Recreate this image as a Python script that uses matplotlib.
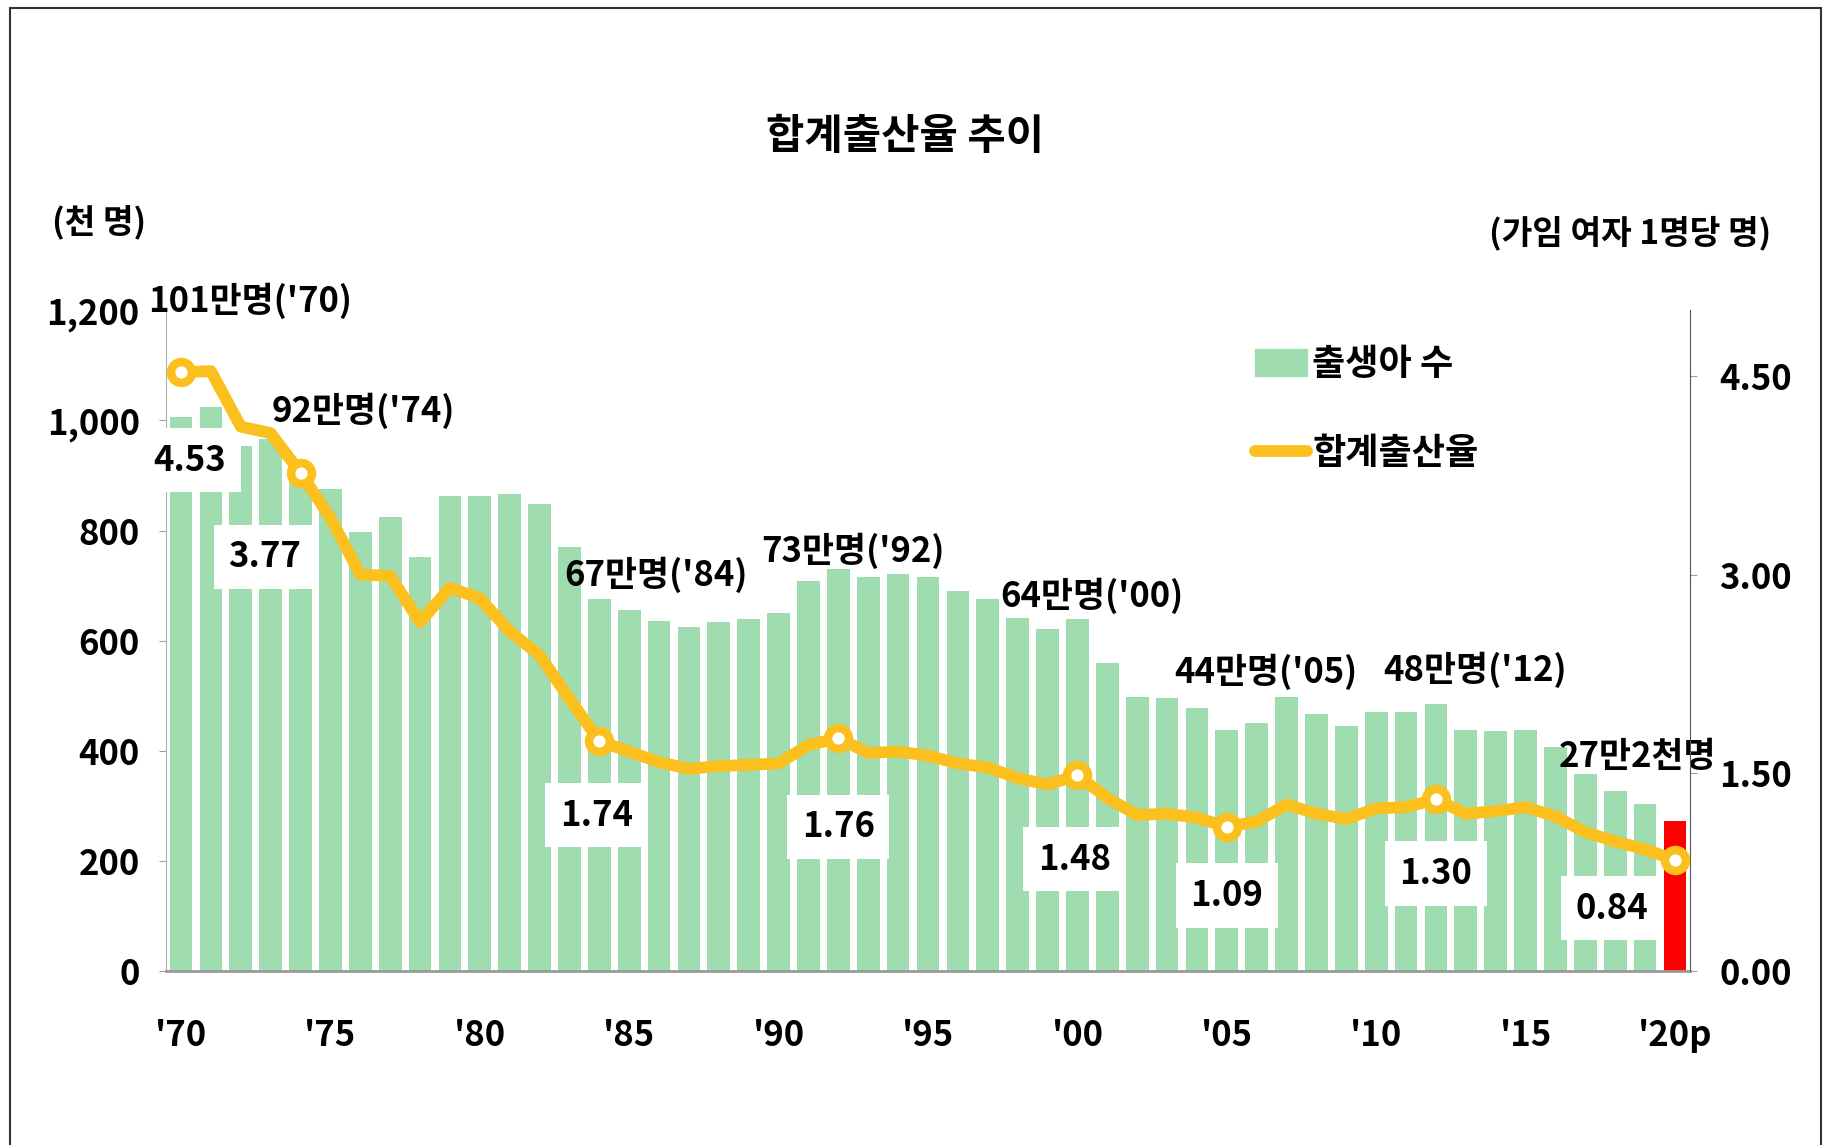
import matplotlib
matplotlib.use("Agg")
import matplotlib.pyplot as plt
from matplotlib.patches import Patch, Rectangle
from matplotlib.lines import Line2D

plt.rcParams['font.family'] = ['Noto Sans CJK KR', 'DejaVu Sans']
plt.rcParams['font.weight'] = 'bold'

# data
years = list(range(1970, 2021))
births = [1007, 1025, 953, 966, 923, 875, 797, 825, 751, 863,
          863, 867, 848, 770, 675, 656, 636, 624, 633, 640,
          650, 709, 731, 716, 721, 715, 691, 675, 642, 621,
          640, 560, 497, 495, 477, 438, 451, 497, 466, 445,
          470, 471, 485, 437, 435, 438, 406, 358, 327, 303,
          272]
tfr = [4.53, 4.54, 4.12, 4.07, 3.77, 3.43, 3.00, 2.99, 2.64, 2.90,
       2.82, 2.57, 2.39, 2.06, 1.74, 1.66, 1.58, 1.53, 1.55, 1.56,
       1.57, 1.71, 1.76, 1.65, 1.66, 1.63, 1.57, 1.54, 1.46, 1.41,
       1.48, 1.31, 1.18, 1.19, 1.16, 1.09, 1.13, 1.26, 1.19, 1.15,
       1.23, 1.24, 1.30, 1.19, 1.21, 1.24, 1.17, 1.05, 0.98, 0.92,
       0.84]
tick_years = [1970, 1975, 1980, 1985, 1990, 1995, 2000, 2005, 2010, 2015, 2020]
tick_labels = ["'70", "'75", "'80", "'85", "'90", "'95", "'00", "'05", "'10", "'15", "'20p"]
mark_years = [1970, 1974, 1984, 1992, 2000, 2005, 2012, 2020]
birth_notes = ["101만명('70)", "92만명('74)", "67만명('84)", "73만명('92)",
               "64만명('00)", "44만명('05)", "48만명('12)", "27만2천명"]
tfr_notes = ["4.53", "3.77", "1.74", "1.76", "1.48", "1.09", "1.30", "0.84"]

# label placement (year, left-axis value)
birth_note_pos = [(1972.3, 1217), (1976.1, 1018), (1985.9, 720), (1992.5, 763),
                  (2000.5, 682), (2006.3, 543), (2013.3, 547), (2018.75, 389)]
tfr_note_pos = [(1970.3, 928), (1972.8, 752), (1983.9, 283), (1992.0, 262),
                (1999.9, 203), (2005.0, 137), (2012.0, 177), (2017.9, 114)]

green = '#9FDCB0'
yellow = '#FBBF1E'

fig = plt.figure(figsize=(18.25, 11.45), dpi=100)
ax = fig.add_axes([0.091, 0.152, 0.835, 0.577])

colors = [green] * (len(years) - 1) + ['#FF0000']
ax.bar(years, births, width=0.76, color=colors, zorder=2)
ax.set_xlim(1969.5, 2020.5)
ax.set_ylim(0, 1200)
ax.set_yticks([0, 200, 400, 600, 800, 1000, 1200])
ax.set_yticklabels(['0', '200', '400', '600', '800', '1,000', '1,200'])
ax.set_xticks(tick_years)
ax.set_xticklabels(tick_labels)
ax.tick_params(axis='x', length=0, pad=34, labelsize=25)
ax.tick_params(axis='y', length=5, color='#A0A0A0', pad=14, labelsize=25)
for s in ['top', 'right']:
    ax.spines[s].set_visible(False)
ax.spines['left'].set_color('#B0B0B0')
ax.spines['bottom'].set_color('#999999')
ax.spines['bottom'].set_linewidth(2)

for txt, (xx, yy) in zip(tfr_notes, tfr_note_pos):
    ax.text(xx, yy, txt, fontsize=25, ha='center', va='center', zorder=5,
            bbox=dict(boxstyle='square,pad=0.42', fc='white', ec='none'))
for txt, (xx, yy) in zip(birth_notes, birth_note_pos):
    ax.text(xx, yy, txt, fontsize=25, ha='center', va='center', zorder=5)

ax2 = ax.twinx()
ax2.plot(years, tfr, color=yellow, lw=8.5, solid_joinstyle='round',
         solid_capstyle='round', zorder=3)
mark_vals = [tfr[years.index(y)] for y in mark_years]
ax2.plot(mark_years, mark_vals, ls='none', marker='o', ms=15, mew=6.2,
         mfc='white', mec=yellow, zorder=4)
ax2.set_ylim(0, 5)
ax2.set_yticks([0, 1.5, 3.0, 4.5])
ax2.set_yticklabels(['0.00', '1.50', '3.00', '4.50'])
ax2.tick_params(axis='y', length=5, color='#A0A0A0', pad=16, labelsize=25)
for s in ['top', 'left', 'bottom']:
    ax2.spines[s].set_visible(False)
ax2.spines['right'].set_color('#555555')

handles = [Patch(color=green),
           Line2D([0], [0], color=yellow, lw=8.5, solid_capstyle='round')]
ax2.legend(handles, ['출생아 수', '합계출산율'], loc='upper left',
           bbox_to_anchor=(0.693, 0.995), frameon=False, fontsize=26,
           handlelength=1.45, handleheight=0.8, handletextpad=0.15,
           labelspacing=1.45)

fig.text(0.496, 0.880, '합계출산율 추이', fontsize=30, ha='center', va='center')
fig.text(99 / 1825, 1 - 223 / 1145, '(천 명)', fontsize=24, ha='center', va='center')
fig.text(1771 / 1825, 1 - 233 / 1145, '(가임 여자 1명당 명)', fontsize=24,
         ha='right', va='center')

fig.patches.append(Rectangle((10 / 1825, -0.05), 1811 / 1825, 1.05 - 8 / 1145,
                             transform=fig.transFigure, fill=False,
                             ec='#333333', lw=1.5))

fig.savefig('out.png', dpi=100)
